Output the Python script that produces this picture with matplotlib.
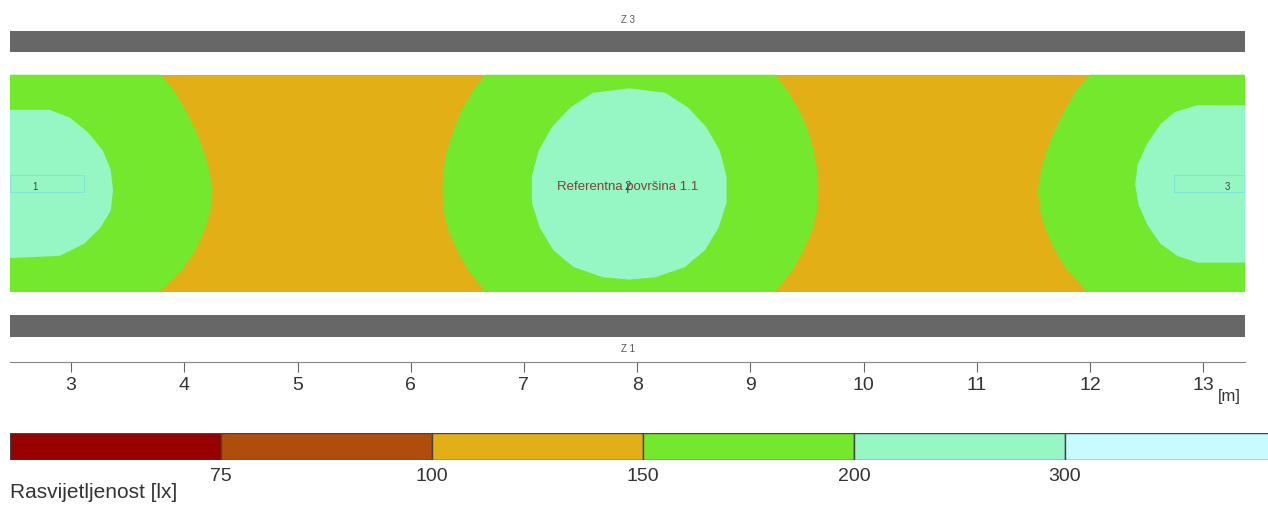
import matplotlib
matplotlib.use('Agg')
import matplotlib.pyplot as plt
from matplotlib.patches import Rectangle

plt.rcParams['font.family'] = ['Liberation Sans', 'DejaVu Sans']

# isolux classes (lx) and their colours
levels = [75, 100, 150, 200, 300]
level_colors = ['#980000', '#B04C0C', '#E2AF17', '#74E82C', '#96F7C4', '#C6FCFE']
legend_title = 'Rasvijetljenost [lx]'

# road surface (m)
road_x = [2.46, 13.37]
road_y = [0.0, 1.92]

# luminaires
lum_x = [2.66, 7.92, 13.19]
lum_y = [0.93, 0.93, 0.93]
lum_labels = ['1', '2', '3']
ref_label = 'Referentna površina 1.1'

x_ticks = [3, 4, 5, 6, 7, 8, 9, 10, 11, 12, 13]

# 150 lx contours (green areas), read at these heights
cont_y = [1.92, 1.78, 1.61, 1.43, 1.25, 1.08, 0.90, 0.72, 0.55, 0.37, 0.19, 0.0]
green_1_x = [3.79, 3.91, 4.01, 4.10, 4.17, 4.22, 4.25, 4.23, 4.18, 4.10, 3.98, 3.78]
green_2_left = [6.66, 6.55, 6.45, 6.38, 6.32, 6.29, 6.28, 6.29, 6.33, 6.41, 6.51, 6.66]
green_2_right = [9.22, 9.33, 9.43, 9.51, 9.56, 9.59, 9.60, 9.59, 9.55, 9.47, 9.37, 9.22]
green_3_x = [12.00, 11.88, 11.78, 11.69, 11.62, 11.57, 11.54, 11.56, 11.61, 11.69, 11.80, 11.98]

# 200 lx contours (aqua areas)
aqua_1_x = [2.46, 2.81, 2.99, 3.15, 3.28, 3.35, 3.37, 3.35, 3.26, 3.12, 2.90, 2.46]
aqua_1_y = [1.61, 1.61, 1.54, 1.41, 1.25, 1.08, 0.90, 0.72, 0.57, 0.43, 0.32, 0.30]
aqua_2_x = [7.93, 7.61, 7.41, 7.25, 7.13, 7.07, 7.07, 7.14, 7.26, 7.44, 7.70, 7.93,
            8.16, 8.42, 8.60, 8.72, 8.79, 8.79, 8.73, 8.61, 8.45, 8.25]
aqua_2_y = [1.80, 1.76, 1.63, 1.46, 1.25, 1.02, 0.79, 0.57, 0.37, 0.22, 0.13, 0.11,
            0.13, 0.22, 0.37, 0.57, 0.79, 1.02, 1.25, 1.46, 1.63, 1.76]
aqua_3_x = [13.37, 12.95, 12.75, 12.62, 12.50, 12.42, 12.40, 12.43, 12.51, 12.62, 12.77, 12.95, 13.37]
aqua_3_y = [1.65, 1.65, 1.59, 1.48, 1.30, 1.12, 0.95, 0.77, 0.59, 0.43, 0.32, 0.26, 0.26]

# walls / kerbs
wall_top_y = [2.12, 2.31]
wall_bottom_y = [-0.40, -0.20]

fig = plt.figure(figsize=(12.68, 5.05), dpi=100)

ax = fig.add_axes([10 / 1268, 143 / 505, 1235 / 1268, 362 / 505])
ax.set_xlim(road_x[0], road_x[1])
ax.set_ylim(-0.618, 2.58)

ax.fill_between(road_x, road_y[0], road_y[1], color=level_colors[2], lw=0)
ax.fill([road_x[0]] + green_1_x + [road_x[0]], [cont_y[0]] + cont_y + [cont_y[-1]],
        color=level_colors[3], lw=0)
ax.fill(green_2_left + green_2_right[::-1], cont_y + cont_y[::-1], color=level_colors[3], lw=0)
ax.fill([road_x[1]] + green_3_x + [road_x[1]], [cont_y[0]] + cont_y + [cont_y[-1]],
        color=level_colors[3], lw=0)
for qx, qy in [(aqua_1_x, aqua_1_y), (aqua_2_x, aqua_2_y), (aqua_3_x, aqua_3_y)]:
    ax.fill(qx, qy, color=level_colors[4], lw=0)

for wy in [wall_top_y, wall_bottom_y]:
    ax.fill_between(road_x, wy[0], wy[1], color='#676767', lw=0)
ax.text(7.92, 2.40, 'Z 3', ha='center', va='center', fontsize=7, color='#555555')
ax.text(7.92, -0.50, 'Z 1', ha='center', va='center', fontsize=7, color='#555555')

# label boxes at side luminaires
for x0, x1 in [(road_x[0], 3.11), (12.74, road_x[1])]:
    ax.add_patch(Rectangle((x0, 0.88), x1 - x0, 0.15, fill=False, ec='#7EE6DA', lw=0.8))

ax.text(lum_x[0] + 0.02, lum_y[0], lum_labels[0], ha='center', va='center', fontsize=7, color='#444444')
ax.text(lum_x[2] + 0.02, lum_y[2], lum_labels[2], ha='center', va='center', fontsize=7, color='#444444')
ax.text(lum_x[1], lum_y[1], ref_label, ha='center', va='center', fontsize=9.5, color='#7A4536')
ax.text(lum_x[1], lum_y[1], lum_labels[1], ha='center', va='center', fontsize=8.5, color='#444444')

for s in ['top', 'left', 'right']:
    ax.spines[s].set_visible(False)
ax.spines['bottom'].set_color('#888888')
ax.set_yticks([])
ax.set_xticks(x_ticks)
ax.tick_params(axis='x', direction='out', length=7, width=0.8, color='#666666',
               labelsize=14, labelcolor='#333333', pad=4)
fig.text(1229 / 1268, 1 - 397 / 505, '[m]', ha='center', va='center', fontsize=12, color='#333333')

# colour legend
lax = fig.add_axes([10 / 1268, 45 / 505, 1258 / 1268, 27 / 505])
lax.barh([0] * len(level_colors), [1] * len(level_colors), left=list(range(len(level_colors))),
         height=1, color=level_colors, edgecolor='#444444', lw=1)
lax.set_xlim(0, 1258 / 211)
lax.set_ylim(-0.5, 0.5)
lax.set_yticks([])
lax.set_xticks(list(range(1, len(levels) + 1)))
lax.set_xticklabels([str(v) for v in levels])
lax.tick_params(axis='x', length=0, labelsize=14, labelcolor='#333333', pad=6)
for s in lax.spines.values():
    s.set_visible(False)
fig.text(10 / 1268, 1 - 493 / 505, legend_title, ha='left', va='center', fontsize=15, color='#333333')

fig.savefig('out.png', dpi=100)
